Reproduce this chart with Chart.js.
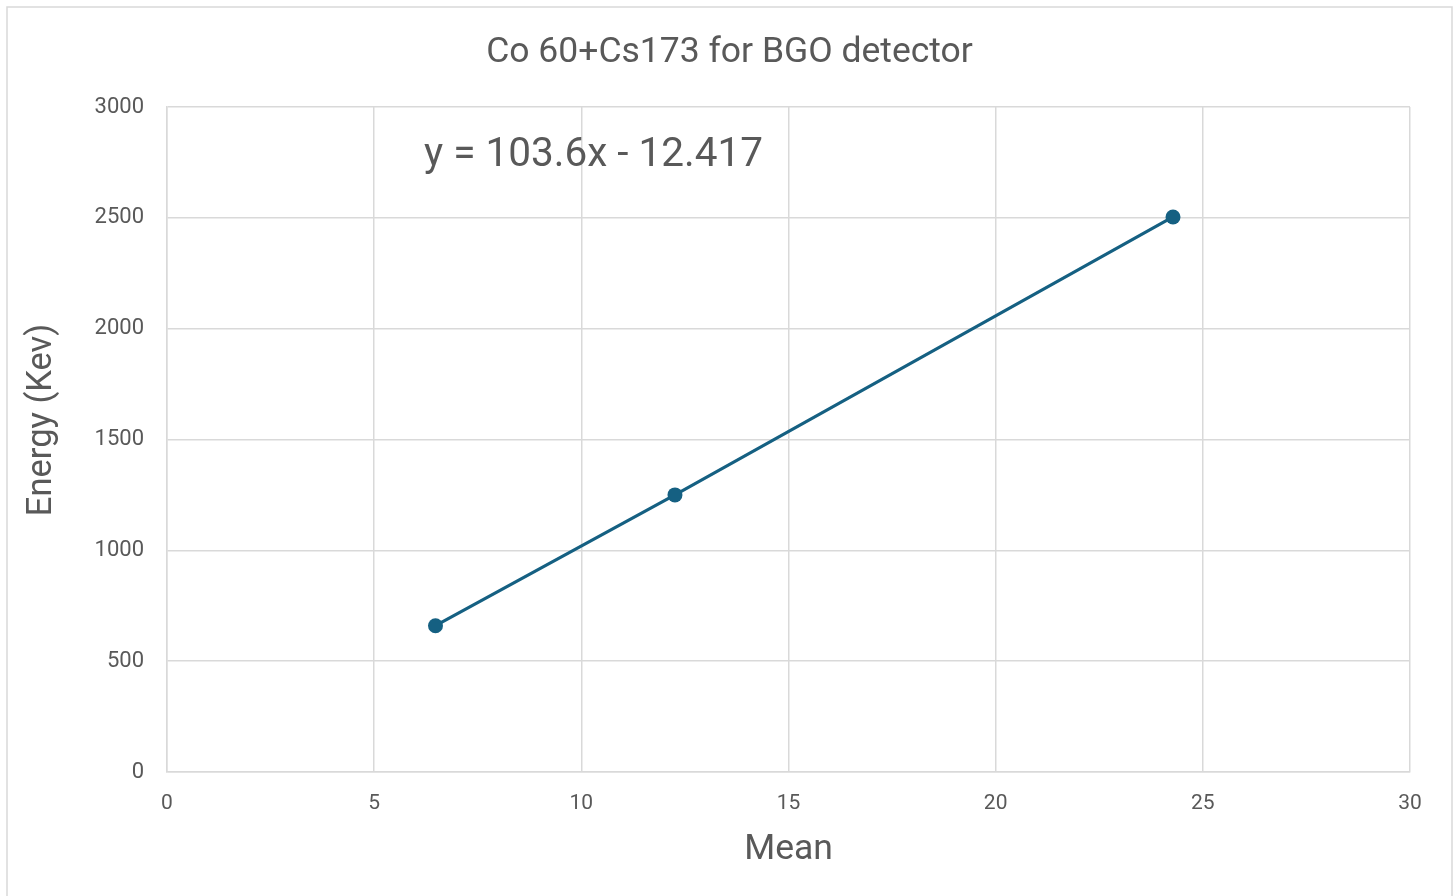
<!DOCTYPE html>
<html>
<head>
<meta charset="utf-8">
<script src="https://cdn.jsdelivr.net/npm/chart.js@4/dist/chart.umd.min.js"></script>
<style>
  html, body { margin: 0; padding: 0; background: #fff; }
  #wrap { width: 1456px; height: 896px; }
</style>
</head>
<body>
<div id="wrap"><canvas id="calib" width="1456" height="896"></canvas></div>
<script>
// peak positions (channel mean) and their known energies
var means = [6.48, 12.26, 24.28];
var energies = [660, 1250, 2504];

var xTicks = [0, 5, 10, 15, 20, 25, 30];
var yTicks = [0, 500, 1000, 1500, 2000, 2500, 3000];

var chartTitle = 'Co 60+Cs173 for BGO detector';
var xTitle = 'Mean';
var yTitle = 'Energy (Kev)';
var fitLabel = 'y = 103.6x - 12.417';

var textColor = '#595959';
var gridColor = '#d9d9d9';
var lineColor = '#156082';
var family = 'Roboto, "Liberation Sans", sans-serif';

var points = means.map(function (m, i) {
    return { x: m, y: energies[i] };
});

// frame, title, rotated y title and the fit equation
var extras = {
    id: 'extras',
    beforeDraw: function (chart) {
        var ctx = chart.ctx;
        ctx.save();
        ctx.fillStyle = '#fff';
        ctx.fillRect(0, 0, chart.width, chart.height);
        ctx.strokeStyle = gridColor;
        ctx.lineWidth = 1.5;
        ctx.strokeRect(7, 7, 1445, 900);
        ctx.restore();
    },
    afterDraw: function (chart) {
        var ctx = chart.ctx;
        var area = chart.chartArea;
        ctx.save();
        ctx.fillStyle = textColor;
        ctx.textBaseline = 'middle';

        ctx.font = '35.5px ' + family;
        ctx.textAlign = 'center';
        ctx.fillText(chartTitle, 729.5, 53);

        ctx.font = '34.5px ' + family;
        ctx.translate(42, 420);
        ctx.rotate(-Math.PI / 2);
        ctx.fillText(yTitle, 0, 0);
        ctx.setTransform(1, 0, 0, 1, 0, 0);

        ctx.font = '40.5px ' + family;
        ctx.textAlign = 'left';
        ctx.fillText(fitLabel, area.left + 257, area.top + 49);
        ctx.restore();
    }
};

new Chart(document.getElementById('calib'), {
    type: 'scatter',
    data: {
        datasets: [{
            data: points,
            showLine: true,
            borderColor: lineColor,
            backgroundColor: lineColor,
            borderWidth: 3.2,
            pointRadius: 7.5,
            pointHoverRadius: 7.5,
            pointBorderWidth: 0
        }]
    },
    options: {
        responsive: false,
        animation: false,
        layout: { padding: { left: 0, right: 46, top: 107, bottom: 0 } },
        plugins: {
            legend: { display: false },
            tooltip: { enabled: false },
            title: { display: false }
        },
        scales: {
            x: {
                type: 'linear',
                min: 0,
                max: 30,
                afterFit: function (scale) { scale.height = 124; },
                afterBuildTicks: function (scale) {
                    scale.ticks = xTicks.map(function (v) { return { value: v }; });
                },
                grid: { color: gridColor, lineWidth: 1.5, drawTicks: false },
                border: { color: gridColor, width: 1.5 },
                ticks: {
                    color: textColor,
                    padding: 19,
                    maxRotation: 0,
                    font: { family: family, size: 21 }
                },
                title: {
                    display: true,
                    text: xTitle,
                    color: textColor,
                    font: { family: family, size: 35.5 },
                    padding: { top: 0, bottom: 25 }
                }
            },
            y: {
                type: 'linear',
                min: 0,
                max: 3000,
                afterFit: function (scale) { scale.width = 167; },
                afterBuildTicks: function (scale) {
                    scale.ticks = yTicks.map(function (v) { return { value: v }; });
                },
                grid: { color: gridColor, lineWidth: 1.5, drawTicks: false },
                border: { color: gridColor, width: 1.5 },
                ticks: {
                    color: textColor,
                    padding: 23,
                    font: { family: family, size: 22 },
                    callback: function (v) { return String(v); }
                }
            }
        }
    },
    plugins: [extras]
});
</script>
</body>
</html>
